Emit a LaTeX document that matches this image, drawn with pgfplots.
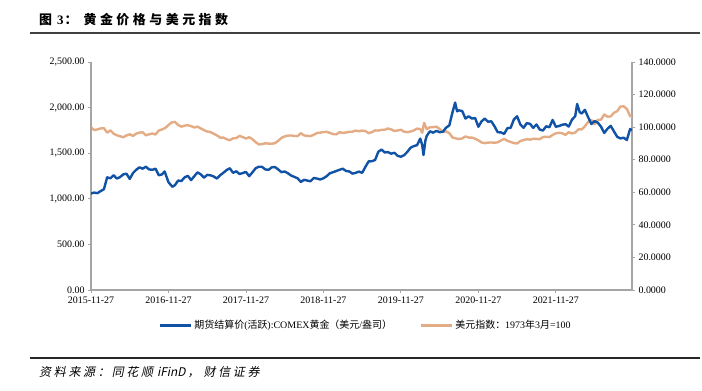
\documentclass[border=0pt]{standalone}
\usepackage{fontspec}
\setmainfont{Liberation Serif}
\newfontfamily\cjk{Noto Sans CJK SC}
\newfontfamily\cjkit[FakeSlant=0.2]{Noto Sans CJK SC}
\usepackage{pgfplots}
\pgfplotsset{compat=1.18}
\definecolor{goldblue}{RGB}{16,82,166}
\definecolor{usdtan}{RGB}{228,172,132}
\definecolor{axgray}{RGB}{165,165,165}
\newcommand\ts{\hspace{3.5bp}}
\newcommand\tss{\hspace{2.7bp}}
\begin{document}
\begin{tikzpicture}[x=1bp,y=1bp]
\useasboundingbox (0,0) rectangle (702,390);
\fill[white] (0,0) rectangle (702,390);
\node[anchor=base west, inner sep=0] at (39,366) {\fontsize{13}{15}\selectfont\cjk\bfseries 图\hspace{5bp}\textrm{3}\hspace{1bp}：\hspace{6bp}黄\ts 金\ts 价\ts 格\ts 与\ts 美\ts 元\ts 指\ts 数};
\draw[line width=1.4bp, black!75] (30,357) -- (700,357);
\draw[line width=1.6bp, black!85] (30,32) -- (700,32);
\node[anchor=base west, inner sep=0] at (39,14) {\fontsize{12}{14}\selectfont\cjkit 资\tss 料\tss 来\tss 源\tss ：\hspace{2bp}同\tss 花\tss 顺\hspace{4bp}{\itshape iFinD}\hspace{2bp}，\hspace{4bp}财\tss 信\tss 证\tss 券};

% USD index (right axis)
\begin{axis}[
  at={(91bp,100bp)}, anchor=south west, scale only axis,
  width=541bp, height=228bp,
  xmin=0, xmax=83.8, ymin=0, ymax=140,
  axis x line=none, axis y line*=right,
  axis line style={axgray, line width=1.3bp, -},
  ytick={0,20,...,140},
  tick style={axgray, line width=0.8bp},
  major tick length=3bp, tick align=outside,
  scaled y ticks=false,
  yticklabel style={font=\fontsize{10}{12}\selectfont,
    /pgf/number format/fixed, /pgf/number format/fixed zerofill,
    /pgf/number format/precision=4, /pgf/number format/assume math mode=true},
]
\addplot[usdtan, line width=2.4bp, line join=round] table {
0 99.8
0.5 98.2
1 98.6
1.5 99.2
2 99.4
2.5 96.6
3 98.0
3.5 96.0
4 95.0
4.5 94.4
5 93.8
5.5 94.9
6 95.6
6.5 94.6
7 96.0
7.5 96.6
8 96.9
8.5 95.0
9 95.6
9.5 96.1
10 95.5
10.5 97.9
11 98.6
11.5 99.5
12 101.3
12.5 102.9
13 103.2
13.5 101.3
14 100.3
14.5 100.9
15 101.2
15.5 100.6
16 99.8
16.5 100.3
17 99.2
17.5 98.2
18 97.3
18.5 97.0
19 95.9
19.5 95.0
20 93.6
20.5 93.6
21 92.6
21.5 92.0
22 93.1
22.5 93.3
23 94.6
23.5 93.9
24 93.0
24.5 93.8
25 92.6
25.5 90.8
26 89.4
26.5 89.6
27 90.1
27.5 89.9
28 89.8
28.5 90.2
29 91.6
29.5 93.4
30 94.3
30.5 94.8
31 94.9
31.5 94.6
32 94.5
32.5 96.3
33 94.9
33.5 94.7
34 94.5
34.5 95.3
35 96.4
35.5 96.6
36 97.0
36.5 97.1
37 96.5
37.5 95.7
38 95.6
38.5 96.9
39 96.5
39.5 96.7
40 97.1
40.5 97.2
41 97.9
41.5 97.5
42 97.9
42.5 97.6
43 96.3
43.5 96.9
44 98.0
44.5 97.9
45 98.3
45.5 98.4
46 99.2
46.5 98.6
47 97.6
47.5 98.0
48 98.4
48.5 97.2
49 96.9
49.5 97.3
50 98.0
50.5 99.1
51 98.8
51.3 96.6
51.6 102.6
52 98.8
52.5 99.9
53 100.0
53.5 100.3
54 98.9
54.5 97.1
55 97.4
55.5 96.3
56 93.6
56.5 93.1
57 92.7
57.5 93.1
58 94.3
58.5 93.6
59 93.6
59.5 92.9
60 91.9
60.5 90.6
61 90.2
61.5 90.5
62 90.6
62.5 90.4
63 90.7
63.5 91.8
64 92.8
64.5 91.6
65 90.9
65.5 90.2
66 90.0
66.5 91.4
67 92.1
67.5 92.6
68 92.3
68.5 92.9
69 92.8
69.5 92.6
70 93.9
70.5 94.1
71 93.9
71.5 95.2
72 96.2
72.5 96.5
73 96.2
73.5 95.3
74 96.9
74.5 96.1
75 96.7
75.5 98.7
76 98.6
76.5 100.5
77 103.2
77.5 104.4
78 101.8
78.5 104.5
79 104.6
79.5 107.8
80 106.4
80.5 106.6
81 108.8
81.5 109.8
82 112.6
82.5 112.8
83 111.2
83.5 106.8
83.8 106.4
};
\end{axis}

% Gold (left axis)
\begin{axis}[
  at={(91bp,100bp)}, anchor=south west, scale only axis,
  width=541bp, height=228bp,
  xmin=0, xmax=83.8, ymin=0, ymax=2500,
  axis x line*=bottom, axis y line*=left,
  axis line style={axgray, line width=1.3bp, -},
  xtick={0,12,24,36,48,60,72},
  xticklabels={2015-11-27,2016-11-27,2017-11-27,2018-11-27,2019-11-27,2020-11-27,2021-11-27},
  ytick={0,500,...,2500},
  tick style={axgray, line width=0.8bp},
  major tick length=3bp, tick align=outside,
  scaled y ticks=false,
  xticklabel style={font=\fontsize{10}{12}\selectfont},
  yticklabel style={font=\fontsize{10}{12}\selectfont,
    /pgf/number format/fixed, /pgf/number format/fixed zerofill,
    /pgf/number format/precision=2, /pgf/number format/1000 sep={,},
    /pgf/number format/assume math mode=true},
  legend columns=2,
  legend cell align=left,
  legend image code/.code={\draw[#1] (0bp,0bp) -- (31bp,0bp);},
  legend style={at={(0.508,-0.155)}, anchor=center, draw=none, fill=none,
    font=\fontsize{10}{12}\selectfont,
    /tikz/every even column/.append style={column sep=26bp}},
]
\addplot[goldblue, line width=2.4bp, line join=round] table {
0 1058
0.5 1068
1 1062
1.5 1085
2 1105
2.5 1235
3 1225
3.5 1258
4 1222
4.5 1238
5 1268
5.5 1275
6 1218
6.5 1282
7 1318
7.5 1345
8 1330
8.5 1352
9 1322
9.5 1318
10 1330
10.5 1258
11 1268
11.4 1300
12 1182
12.6 1132
13 1150
13.5 1200
14 1195
14.5 1235
15 1252
15.5 1205
16 1248
16.5 1290
17 1268
17.5 1232
18 1262
18.5 1258
19 1245
19.5 1222
20 1258
20.5 1285
21 1315
21.5 1335
22 1285
22.5 1302
23 1272
23.5 1282
24 1295
24.5 1248
25 1290
25.5 1335
26 1352
26.5 1350
27 1322
27.5 1318
28 1345
28.5 1348
29 1322
29.5 1292
30 1300
30.5 1280
31 1255
31.5 1240
32 1225
32.5 1185
33 1208
33.5 1200
34 1192
34.5 1228
35 1222
35.5 1212
36 1225
36.5 1248
37 1280
37.5 1292
38 1305
38.5 1318
39 1330
39.5 1305
40 1300
40.5 1276
41 1285
41.5 1298
42 1285
42.5 1350
43 1410
43.5 1412
44 1425
44.5 1515
45 1540
45.5 1508
46 1512
46.5 1495
47 1505
47.5 1470
48 1462
48.5 1478
49 1515
49.5 1560
50 1578
50.5 1588
51 1660
51.3 1590
51.5 1480
51.8 1640
52 1690
52.5 1740
53 1725
53.5 1745
54 1730
54.5 1735
55 1780
55.5 1805
56 1950
56.4 2055
56.7 1960
57 1970
57.5 1962
58 1880
58.5 1905
59 1880
59.5 1885
60 1790
60.5 1850
61 1880
61.5 1845
62 1850
62.5 1795
63 1730
63.5 1728
64 1712
64.5 1775
65 1778
65.5 1870
66 1905
66.5 1815
67 1778
67.5 1830
68 1822
68.5 1778
69 1815
69.5 1760
70 1748
70.5 1795
71 1785
71.5 1865
72 1790
72.5 1798
73 1812
73.5 1818
74 1792
74.5 1868
75 1905
75.3 2040
75.7 1950
76 1935
76.5 1975
77 1895
77.5 1820
78 1852
78.5 1835
79 1790
79.5 1722
80 1768
80.5 1800
81 1740
81.5 1680
82 1662
82.5 1670
83 1645
83.5 1765
83.8 1752
};
\addlegendentry{{\cjk 期货结算价}({\cjk 活跃}):COMEX{\cjk 黄金（美元}/{\cjk 盎司）}}
\addlegendimage{usdtan, line width=2.4bp}
\addlegendentry{{\cjk 美元指数：}1973{\cjk 年}3{\cjk 月}=100}
\end{axis}
\end{tikzpicture}
\end{document}
